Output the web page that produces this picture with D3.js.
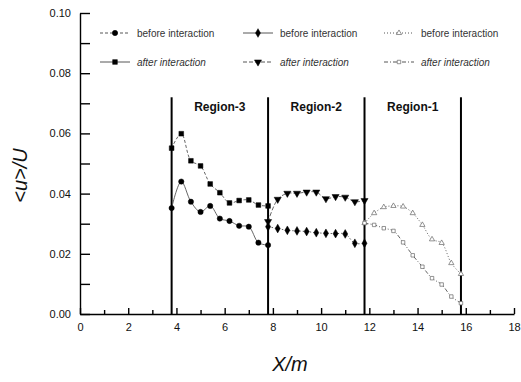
<!DOCTYPE html>
<html lang="en">
<head>
    <meta charset="UTF-8" />
    <title>&lt;u&gt;/U vs X/m</title>
    <script src="https://d3js.org/d3.v7.min.js"></script>
    <style>
        body { margin: 0; background: #fff; }
        svg { font-family: "Liberation Sans", Arial, sans-serif; }
        .axis path, .axis line { stroke: #000; stroke-width: 1.4px; }
        .axis text { font-size: 11px; fill: #111; }
        .series { fill: none; stroke: #555; stroke-width: 0.9px; }
        .legend text { font-size: 10px; fill: #333; }
    </style>
</head>
<body>
<script>
    // region boundaries (X/m)
    const boundaries = [3.8, 7.8, 11.8, 15.8];
    const regionNames = ["Region-3", "Region-2", "Region-1"];

    // Region-3
    const xR3 = [3.8, 4.2, 4.6, 5.0, 5.4, 5.8, 6.2, 6.6, 7.0, 7.4, 7.8];
    const r3Before = [0.0352, 0.0440, 0.0373, 0.0339, 0.0359, 0.0317, 0.0309, 0.0293, 0.0290, 0.0237, 0.0229];
    const r3After  = [0.0551, 0.0599, 0.0509, 0.0492, 0.0432, 0.0403, 0.0369, 0.0377, 0.0379, 0.0362, 0.0359];

    // Region-2
    const xR2 = [7.8, 8.2, 8.6, 9.0, 9.4, 9.8, 10.2, 10.6, 11.0, 11.4, 11.8];
    const r2Before = [0.0290, 0.0284, 0.0278, 0.0276, 0.0274, 0.0270, 0.0268, 0.0267, 0.0266, 0.0235, 0.0235];
    const r2After  = [0.0307, 0.0381, 0.0401, 0.0401, 0.0405, 0.0405, 0.0383, 0.0390, 0.0388, 0.0373, 0.0377];

    // Region-1
    const xR1 = [11.8, 12.2, 12.6, 13.0, 13.4, 13.8, 14.2, 14.6, 15.0, 15.4, 15.8];
    const r1Before = [0.0302, 0.0335, 0.0355, 0.0359, 0.0357, 0.0335, 0.0296, 0.0248, 0.0236, 0.0169, 0.0133];
    const r1After  = [0.0302, 0.0296, 0.0285, 0.0276, 0.0238, 0.0195, 0.0157, 0.0119, 0.0098, 0.0058, 0.0036];

    const xTicks = [0, 2, 4, 6, 8, 10, 12, 14, 16, 18];
    const xMinorTicks = [1, 3, 5, 7, 9, 11, 13, 15, 17];
    const yTicks = [0, 0.02, 0.04, 0.06, 0.08, 0.10];
    const yMinorTicks = [0.01, 0.03, 0.05, 0.07, 0.09];

    const width = 521, height = 382;
    const svg = d3.select("body").append("svg")
        .attr("width", width).attr("height", height);

    const x = d3.scaleLinear().domain([0, 18]).range([80, 514]);
    const y = d3.scaleLinear().domain([0, 0.1]).range([314, 13]);

    // series styling
    const series = [
        { xs: xR3, ys: r3Before, label: "before interaction", dash: null, marker: "circle", filled: true, col: 0, row: 0, legDash: "3,2" },
        { xs: xR2, ys: r2Before, label: "before interaction", dash: "1.5,2", marker: "diamond", filled: true, col: 1, row: 0, legDash: null },
        { xs: xR1, ys: r1Before, label: "before interaction", dash: "1,2", marker: "triangle", filled: false, col: 2, row: 0, legDash: "1,2" },
        { xs: xR3, ys: r3After, label: "after interaction", dash: "3,2", marker: "square", filled: true, col: 0, row: 1, legDash: null },
        { xs: xR2, ys: r2After, label: "after interaction", dash: "4,2", marker: "triangleDown", filled: true, col: 1, row: 1, legDash: "4,2" },
        { xs: xR1, ys: r1After, label: "after interaction", dash: "4,2,1,2", marker: "square", filled: false, col: 2, row: 1, legDash: "4,2,1,2" }
    ];

    const symbolType = {
        circle: d3.symbolCircle,
        diamond: d3.symbolDiamond,
        triangle: d3.symbolTriangle,
        triangleDown: d3.symbolTriangle,
        square: d3.symbolSquare
    };

    function drawMarker(g, s, px, py, size) {
        g.append("path")
            .attr("d", d3.symbol().type(symbolType[s.marker]).size(size)())
            .attr("transform", `translate(${px},${py})` + (s.marker === "triangleDown" ? " rotate(180)" : ""))
            .attr("fill", s.filled ? "#000" : "#fff")
            .attr("stroke", s.filled ? "#000" : "#666")
            .attr("stroke-width", s.filled ? 0.5 : 0.7);
    }

    // axes
    svg.append("g").attr("class", "axis")
        .attr("transform", `translate(${x(0)},0)`)
        .call(d3.axisLeft(y).tickValues(yTicks).tickFormat(d3.format(".2f"))
            .tickSizeInner(-10).tickSizeOuter(0).tickPadding(9));
    svg.append("g").attr("class", "axis")
        .attr("transform", `translate(${x(0)},0)`)
        .call(d3.axisLeft(y).tickValues(yMinorTicks).tickFormat("").tickSizeInner(-10).tickSizeOuter(0))
        .select(".domain").remove();

    svg.append("g").attr("class", "axis")
        .attr("transform", `translate(0,${y(0)})`)
        .call(d3.axisBottom(x).tickValues(xTicks).tickFormat(d3.format("d"))
            .tickSizeInner(-6).tickSizeOuter(0).tickPadding(9));
    svg.append("g").attr("class", "axis")
        .attr("transform", `translate(0,${y(0)})`)
        .call(d3.axisBottom(x).tickValues(xMinorTicks).tickFormat("").tickSizeInner(-4).tickSizeOuter(0))
        .select(".domain").remove();

    // region separators
    svg.selectAll(".boundary").data(boundaries).enter().append("line")
        .attr("class", "boundary")
        .attr("x1", d => x(d)).attr("x2", d => x(d))
        .attr("y1", y(0.072)).attr("y2", y(0))
        .attr("stroke", "#000").attr("stroke-width", 2);

    svg.selectAll(".region-label").data(regionNames).enter().append("text")
        .attr("class", "region-label")
        .attr("x", (d, i) => (x(boundaries[i]) + x(boundaries[i + 1])) / 2)
        .attr("y", y(0.0675))
        .attr("text-anchor", "middle")
        .attr("font-size", 12).attr("font-weight", "bold").attr("fill", "#111")
        .text(d => d);

    // data lines + markers
    const line = d3.line().curve(d3.curveCatmullRom.alpha(0.5));
    series.forEach(s => {
        const pts = s.xs.map((v, i) => [x(v), y(s.ys[i])]);
        svg.append("path").attr("class", "series")
            .attr("d", line(pts))
            .attr("stroke-dasharray", s.dash);
        const g = svg.append("g");
        pts.forEach(p => drawMarker(g, s, p[0], p[1], s.filled ? 22 : 12));
    });

    // legend
    const legCols = [100, 243, 384];
    const legRows = [33, 62];
    const legend = svg.append("g").attr("class", "legend");
    series.forEach(s => {
        const lx = legCols[s.col], ly = legRows[s.row];
        legend.append("line")
            .attr("x1", lx).attr("x2", lx + 30).attr("y1", ly).attr("y2", ly)
            .attr("stroke", "#444").attr("stroke-width", 0.9)
            .attr("stroke-dasharray", s.legDash);
        drawMarker(legend, s, lx + 15, ly, s.filled ? 22 : 12);
        legend.append("text")
            .attr("x", lx + 37).attr("y", ly + 3.5)
            .attr("font-style", s.row === 1 ? "italic" : "normal")
            .text(s.label);
    });

    // axis titles
    svg.append("text")
        .attr("x", 290).attr("y", 371)
        .attr("text-anchor", "middle")
        .attr("font-size", 20).attr("font-style", "italic").attr("fill", "#111")
        .text("X/m");
    svg.append("text")
        .attr("transform", `translate(27,${y(0.046)}) rotate(-90)`)
        .attr("text-anchor", "middle")
        .attr("font-size", 20).attr("font-style", "italic").attr("fill", "#111")
        .text("<u>/U");
</script>
</body>
</html>
